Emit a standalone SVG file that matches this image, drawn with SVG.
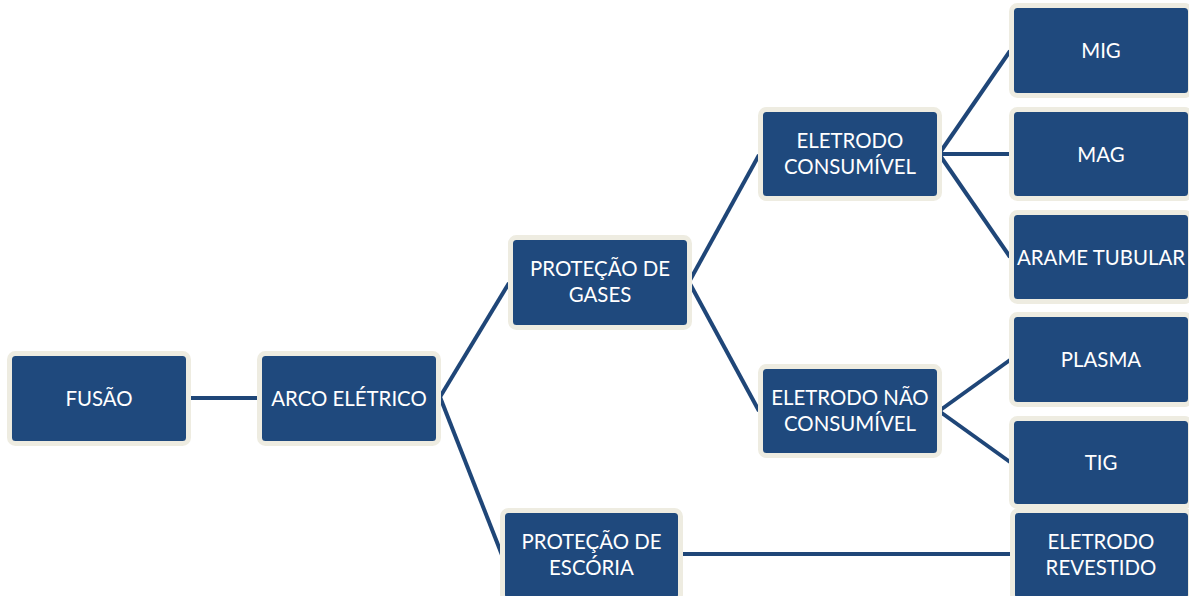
<svg xmlns="http://www.w3.org/2000/svg" width="1189" height="596" viewBox="0 0 1189 596">
<style>
.box{fill:#1F497D;stroke:#EEECE1;stroke-width:5}
.t{font-family:Lato,"Open Sans",sans-serif;font-size:20.4px;fill:#FFFFFF;text-anchor:middle}
.c{stroke:#1F4678;stroke-width:4;fill:none}
</style>
<rect width="1189" height="596" fill="#FFFFFF"/>
<g id="connectors">
<line class="c" x1="188" y1="398" x2="260" y2="398"/>
<line class="c" x1="440" y1="397" x2="509" y2="283"/>
<line class="c" x1="440" y1="397" x2="502" y2="555"/>
<line class="c" x1="689" y1="282" x2="759" y2="155"/>
<line class="c" x1="689" y1="282" x2="759" y2="411"/>
<line class="c" x1="939" y1="154" x2="1010" y2="51"/>
<line class="c" x1="939" y1="154" x2="1010" y2="154"/>
<line class="c" x1="939" y1="154" x2="1010" y2="257"/>
<line class="c" x1="939" y1="411" x2="1010" y2="360"/>
<line class="c" x1="939" y1="411" x2="1010" y2="462"/>
<line class="c" x1="680" y1="554" x2="1011" y2="554"/>
</g>
<g id="fusao"><rect class="box" x="9.5" y="353.5" width="179" height="90" rx="6"/><text class="t" x="99" y="406">FUSÃO</text></g>
<g id="arco"><rect class="box" x="259.5" y="353.5" width="179" height="90" rx="6"/><text class="t" x="349" y="406">ARCO ELÉTRICO</text></g>
<g id="gases"><rect class="box" x="510.5" y="237.5" width="179" height="90" rx="6"/><text class="t" x="600" y="276">PROTEÇÃO DE</text><text class="t" x="600" y="302">GASES</text></g>
<g id="escoria"><rect class="box" x="502.5" y="510.5" width="178" height="90" rx="6"/><text class="t" x="591.5" y="549">PROTEÇÃO DE</text><text class="t" x="591.5" y="575">ESCÓRIA</text></g>
<g id="consumivel"><rect class="box" x="760.5" y="109.5" width="179" height="89" rx="6"/><text class="t" x="850" y="148">ELETRODO</text><text class="t" x="850" y="174">CONSUMÍVEL</text></g>
<g id="naoconsumivel"><rect class="box" x="760.5" y="366.5" width="179" height="89" rx="6"/><text class="t" x="850" y="405">ELETRODO NÃO</text><text class="t" x="850" y="431">CONSUMÍVEL</text></g>
<g id="mig"><rect class="box" x="1011.5" y="5.5" width="179" height="90" rx="6"/><text class="t" x="1101" y="58">MIG</text></g>
<g id="mag"><rect class="box" x="1011.5" y="109.5" width="179" height="89" rx="6"/><text class="t" x="1101" y="162">MAG</text></g>
<g id="arame"><rect class="box" x="1011.5" y="212.5" width="179" height="89" rx="6"/><text class="t" x="1101" y="265">ARAME TUBULAR</text></g>
<g id="plasma"><rect class="box" x="1011.5" y="314.5" width="179" height="90" rx="6"/><text class="t" x="1101" y="367">PLASMA</text></g>
<g id="tig"><rect class="box" x="1011.5" y="418.5" width="179" height="88" rx="6"/><text class="t" x="1101" y="470">TIG</text></g>
<g id="revestido"><rect class="box" x="1012.5" y="510.5" width="178" height="90" rx="6"/><text class="t" x="1101" y="549">ELETRODO</text><text class="t" x="1101" y="575">REVESTIDO</text></g>
</svg>
